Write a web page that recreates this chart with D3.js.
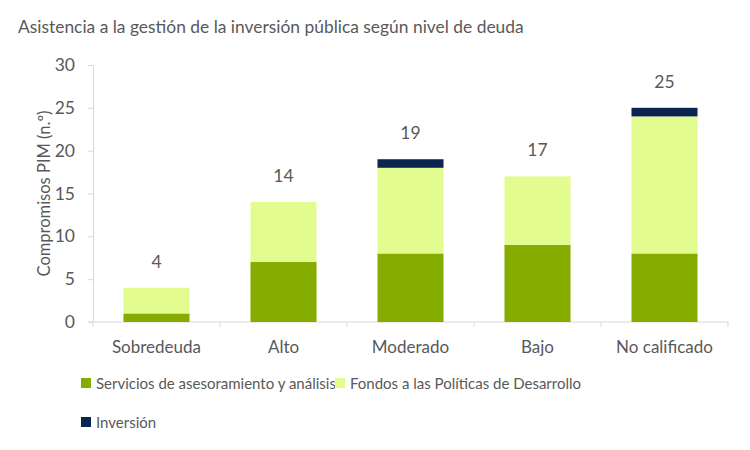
<!DOCTYPE html>
<html><head><meta charset="utf-8">
<script src="https://cdn.jsdelivr.net/npm/d3@7"></script>
<style>body{margin:0;background:#fff}svg text{font-family:Lato,"Open Sans",sans-serif;fill:#595959}</style>
</head><body><svg id="c" width="750" height="450"></svg>
<script>
const categories = ["Sobredeuda","Alto","Moderado","Bajo","No calificado"];
const seriesNames = ["Servicios de asesoramiento y análisis","Fondos a las Políticas de Desarrollo","Inversión"];
const servicios = [1,7,8,9,8];
const fondos = [3,7,10,8,16];
const inversion = [0,0,1,0,1];
const totals = [4,14,19,17,25];
const yTicks = [0,5,10,15,20,25,30];
const colors = ["#84ad00","#e3fc8f","#0b2450"];

const svg = d3.select("#c");
const x = d3.scaleBand().domain(categories).range([93,728]).paddingInner(0.48).paddingOuter(0.24);
const y = d3.scaleLinear().domain([0,30]).range([322,65]);

svg.append("text").attr("x",18).attr("y",33).style("font-size","17.4px").text("Asistencia a la gestión de la inversión pública según nivel de deuda");

const rows = categories.map((c,i)=>({cat:c,s0:servicios[i],s1:fondos[i],s2:inversion[i]}));
const stack = d3.stack().keys(["s0","s1","s2"])(rows);

// axes
const yAxis = svg.append("g").attr("transform","translate(93,0)").call(d3.axisLeft(y).tickValues(yTicks).tickSize(5).tickPadding(13));
yAxis.select(".domain").attr("stroke","#d9d9d9");
yAxis.selectAll(".tick line").attr("stroke","#d9d9d9");
yAxis.selectAll("text").style("font-size","17.5px").attr("fill","#595959");

const xBase = svg.append("g");
xBase.append("line").attr("x1",88).attr("x2",728).attr("y1",y(0)).attr("y2",y(0)).attr("stroke","#d9d9d9");
const bounds = d3.range(categories.length+1).map(i=>93 + i*x.step());
xBase.selectAll("line.t").data(bounds).join("line").attr("class","t").attr("x1",d=>d).attr("x2",d=>d).attr("y1",y(0)).attr("y2",y(0)+5).attr("stroke","#d9d9d9");
xBase.selectAll("text").data(categories).join("text").attr("x",d=>x(d)+x.bandwidth()/2).attr("y",353).attr("text-anchor","middle").style("font-size","17px").text(d=>d);

svg.append("text").attr("transform","translate(50,"+((y(0)+y(30))/2)+") rotate(-90)").attr("text-anchor","middle").style("font-size","16.5px").text("Compromisos PIM (n.º)");

svg.append("g").selectAll("g").data(stack).join("g").attr("fill",(d,i)=>colors[i])
 .selectAll("rect").data(d=>d).join("rect")
 .attr("x",d=>x(d.data.cat)).attr("width",x.bandwidth())
 .attr("y",d=>y(d[1])).attr("height",d=>y(d[0])-y(d[1]));

svg.append("g").selectAll("text").data(categories).join("text")
 .attr("x",d=>x(d)+x.bandwidth()/2).attr("y",(d,i)=>y(totals[i])-20).attr("text-anchor","middle").style("font-size","17.5px").text((d,i)=>totals[i]);

// legend
const leg = [{n:seriesNames[0],c:colors[0],x:81,y:383},{n:seriesNames[1],c:colors[1],x:335,y:383},{n:seriesNames[2],c:colors[2],x:81,y:422}];
const lg = svg.append("g").selectAll("g").data(leg).join("g");
lg.append("rect").attr("x",d=>d.x).attr("y",d=>d.y-5).attr("width",10).attr("height",10).attr("fill",d=>d.c);
lg.append("text").attr("x",d=>d.x+15).attr("y",d=>d.y+6).style("font-size","15px").text(d=>d.n);
</script></body></html>
